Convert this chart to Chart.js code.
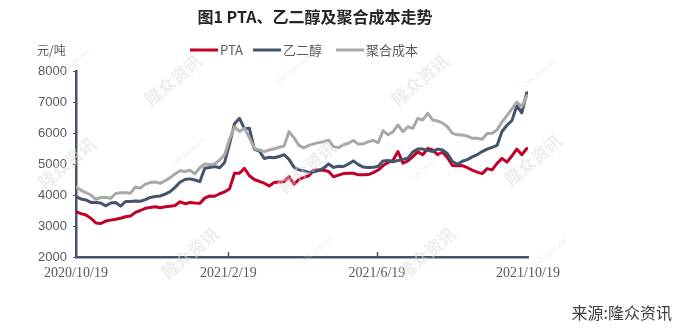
<!DOCTYPE html>
<html>
<head>
<meta charset="utf-8">
<script src="https://cdn.jsdelivr.net/npm/chart.js@4/dist/chart.umd.min.js"></script>
<style>
  body { margin: 0; background: #fff; }
  #wrap { width: 679px; height: 331px; }
</style>
</head>
<body>
<div id="wrap"><canvas id="costChart" width="679" height="331"></canvas></div>
<script>
// ====================== DATA ======================
// days since 2020/10/19
const days = [
  0, 4, 8, 12, 16, 20, 24, 28, 32, 36,
  40, 44, 48, 52, 56, 60, 64, 68, 72, 76,
  80, 84, 88, 92, 96, 100, 104, 108, 112, 116,
  120, 124, 128, 132, 136, 140, 144, 148, 152, 156,
  160, 164, 168, 172, 176, 180, 184, 188, 192, 196,
  200, 204, 208, 212, 216, 220, 224, 228, 232, 236,
  240, 244, 248, 252, 256, 260, 264, 268, 272, 276,
  280, 284, 288, 292, 296, 300, 304, 308, 312, 316,
  320, 324, 328, 332, 336, 340, 344, 348, 352, 356,
  360, 364
];

const ptaPrice = [
  3460, 3400, 3355, 3250, 3100, 3080, 3160, 3190, 3215, 3250,
  3300, 3320, 3440, 3500, 3570, 3600, 3620, 3590, 3620, 3640,
  3660, 3780, 3720, 3760, 3740, 3730, 3900, 3968, 3960, 4040,
  4100, 4200, 4700, 4700, 4860, 4620, 4500, 4440, 4380, 4290,
  4400, 4420, 4430, 4590, 4350, 4500, 4570, 4620, 4800, 4810,
  4800, 4760, 4590, 4640, 4690, 4700, 4700, 4650, 4650, 4660,
  4720, 4806, 4950, 5050, 5120, 5400, 5030, 5100, 5236, 5390,
  5300, 5500, 5450, 5300, 5380, 5200, 4950, 4940, 4950, 4880,
  4800, 4740, 4690, 4850, 4810, 5020, 5180, 5060, 5260, 5480,
  5300, 5500
];

const megPrice = [
  3950, 3870, 3840, 3760, 3760, 3740, 3650, 3740, 3760, 3640,
  3790, 3790, 3810, 3800, 3850, 3920, 3950, 3968, 4030, 4108,
  4247, 4410, 4500, 4520, 4484, 4430, 4860, 4890, 4920, 4880,
  5050, 5650, 6300, 6473, 6140, 6150, 5480, 5420, 5180, 5220,
  5200, 5240, 5300, 5150, 4900, 4810, 4780, 4730, 4750, 4790,
  4870, 5000, 4890, 4930, 4920, 5000, 5100, 4980, 4900, 4890,
  4892, 4930, 5100, 5110, 5075, 5110, 5150, 5190, 5390, 5480,
  5480, 5440, 5400, 5480, 5450, 5330, 5080, 4990, 5090, 5140,
  5230, 5300, 5400, 5480, 5538, 5600, 6050, 6250, 6400, 6880,
  6650, 7300
];

const polyCost = [
  4260, 4150, 4080, 4000, 3860, 3920, 3930, 3890, 4050, 4070,
  4070, 4060, 4260, 4220, 4350, 4400, 4420, 4377, 4460, 4560,
  4680, 4780, 4760, 4800, 4680, 4880, 5000, 4980, 5000, 5130,
  5300, 5800, 6200, 6050, 6150, 5850, 5505, 5451, 5397, 5451,
  5490, 5540, 5580, 6043, 5850, 5600, 5520, 5600, 5650, 5690,
  5720, 5770, 5560, 5530, 5620, 5670, 5760, 5640, 5650, 5720,
  5760, 5690, 6080, 5940, 6043, 6258, 6043, 6200, 6151, 6473,
  6420, 6635, 6420, 6390, 6320, 6200, 5990, 5940, 5935, 5900,
  5827, 5830, 5800, 5980, 5990, 6100, 6350, 6560, 6780, 7000,
  6850, 7200
];

const tickDays = [0, 123, 243, 365];
const tickLabels = ['2020/10/19', '2021/2/19', '2021/6/19', '2021/10/19'];

const seriesNames = ['PTA', '乙二醇', '聚合成本'];
const seriesColors = ['#c0002b', '#44546a', '#a9a9a9'];

// ====================== HELPERS ======================
const toPoints = arr => arr.map((v, i) => ({ x: days[i], y: v }));

const AXIS = '#44546a';
const TEXT = '#595959';

// title, unit, legend, source, watermarks
const decor = {
  id: 'decor',
  afterDatasetsDraw(chart) {
    const ctx = chart.ctx;
    const xs = chart.scales.x;
    const area = chart.chartArea;

    // small inner ticks on the date axis
    ctx.save();
    ctx.strokeStyle = AXIS;
    ctx.lineWidth = 1.5;
    tickDays.slice(1, 3).forEach(d => {
      const px = Math.round(xs.getPixelForValue(d)) + 0.5;
      ctx.beginPath();
      ctx.moveTo(px, area.bottom);
      ctx.lineTo(px, area.bottom - 5);
      ctx.stroke();
    });
    ctx.restore();

    // watermarks
    ctx.save();
    ctx.fillStyle = 'rgba(220,220,220,0.5)';
    ctx.textAlign = 'center';
    ctx.textBaseline = 'middle';
    const marks = [[173, 80], [420, 80], [67, 163], [307, 167], [533, 160], [190, 253], [427, 253]];
    marks.forEach(([mx, my]) => {
      ctx.save();
      ctx.translate(mx, my);
      ctx.rotate(-40 * Math.PI / 180);
      ctx.font = 'bold 17px "Noto Sans CJK SC"';
      ctx.fillText('隆众资讯', 0, 0);
      ctx.restore();
    });
    const nets = [[72, 64], [293, 70], [540, 73], [188, 152], [427, 167], [317, 250], [550, 253]];
    nets.forEach(([mx, my]) => {
      ctx.save();
      ctx.translate(mx, my);
      ctx.rotate(-40 * Math.PI / 180);
      ctx.font = '8px "Liberation Serif"';
      ctx.fillText('OilChem.net', 0, 0);
      ctx.restore();
    });
    ctx.restore();
  },
  afterDraw(chart) {
    const ctx = chart.ctx;
    ctx.save();

    // title
    ctx.fillStyle = '#262626';
    ctx.font = 'bold 16px "Noto Sans CJK SC"';
    ctx.textAlign = 'center';
    ctx.textBaseline = 'middle';
    ctx.fillText('图1 PTA、乙二醇及聚合成本走势', 315, 17);

    // unit
    ctx.fillStyle = TEXT;
    ctx.font = '12px "Noto Sans CJK SC"';
    ctx.textAlign = 'left';
    ctx.fillText('元/吨', 37, 50);

    // legend
    ctx.font = '13px "Noto Sans CJK SC"';
    const legendX = [190, 253, 336];
    seriesNames.forEach((name, i) => {
      const lx = legendX[i];
      ctx.strokeStyle = seriesColors[i];
      ctx.lineWidth = 3;
      ctx.beginPath();
      ctx.moveTo(lx, 50);
      ctx.lineTo(lx + 28, 50);
      ctx.stroke();
      ctx.fillStyle = TEXT;
      ctx.fillText(name, lx + 30, 50);
    });

    // source
    ctx.fillStyle = '#404040';
    ctx.font = '16px "Noto Sans CJK SC"';
    ctx.textAlign = 'right';
    ctx.fillText('来源:隆众资讯', 672, 313);

    ctx.restore();
  }
};

// ====================== CHART ======================
new Chart(document.getElementById('costChart'), {
  type: 'line',
  data: {
    datasets: [
      { label: seriesNames[0], data: toPoints(ptaPrice), borderColor: seriesColors[0] },
      { label: seriesNames[1], data: toPoints(megPrice), borderColor: seriesColors[1] },
      { label: seriesNames[2], data: toPoints(polyCost), borderColor: seriesColors[2] }
    ].reverse()
  },
  options: {
    responsive: false,
    animation: false,
    events: [],
    elements: {
      line: { borderWidth: 3, tension: 0, borderJoinStyle: 'round', borderCapStyle: 'round' },
      point: { radius: 0 }
    },
    layout: { padding: { left: 0, top: 71, right: 151, bottom: 0 } },
    plugins: {
      legend: { display: false },
      title: { display: false },
      tooltip: { enabled: false }
    },
    scales: {
      x: {
        type: 'linear',
        min: 0,
        max: 365,
        afterBuildTicks: scale => { scale.ticks = tickDays.map(v => ({ value: v })); },
        afterFit: scale => { scale.height = 74; },
        grid: { display: false },
        border: { color: AXIS, width: 2.5 },
        ticks: {
          autoSkip: false,
          maxRotation: 0,
          padding: 0,
          color: TEXT,
          font: { family: '"Liberation Serif"', size: 14 },
          callback: v => tickLabels[tickDays.indexOf(v)]
        }
      },
      y: {
        min: 2000,
        max: 8000,
        afterFit: scale => { scale.width = 76; },
        grid: { drawOnChartArea: false, tickLength: 3, color: AXIS, lineWidth: 1 },
        border: { color: AXIS, width: 2.5 },
        ticks: {
          stepSize: 1000,
          padding: 6,
          color: TEXT,
          font: { family: '"Liberation Sans"', size: 13 },
          callback: v => String(v)
        }
      }
    }
  },
  plugins: [decor]
});
</script>
</body>
</html>
